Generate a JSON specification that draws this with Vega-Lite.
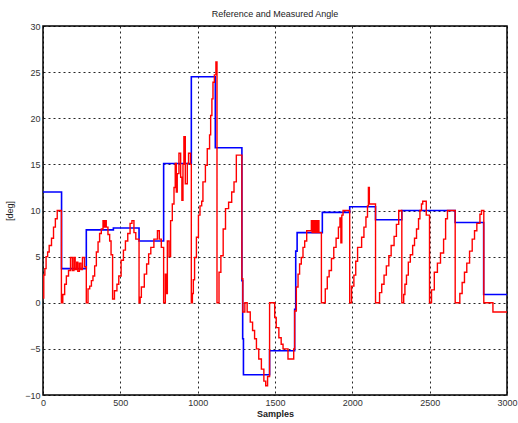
{
  "$schema": "https://vega.github.io/schema/vega-lite/v6.json",
  "autosize": "none",
  "padding": {"left": 43, "top": 26, "right": 11, "bottom": 28},
  "width": 464,
  "height": 369,
  "background": "white",
  "title": {"text": "Reference and Measured Angle", "fontSize": 9, "font": "Liberation Sans", "fontWeight": "normal", "color": "#222", "offset": 3},
  "config": {
    "view": {"stroke": "black", "strokeWidth": 1.5},
    "axis": {"labelFont": "Liberation Sans", "labelFontSize": 9, "labelColor": "#333", "titleFont": "Liberation Sans", "titleFontSize": 9, "titleColor": "#222", "grid": true, "gridColor": "black", "gridDash": [2, 3], "gridWidth": 1, "gridOpacity": 0.85, "domain": false, "ticks": false}
  },
  "datasets": {
    "ref": [
      {"s":0,"v":12},{"s":120,"v":3.7},{"s":280,"v":7.9},{"s":455,"v":8.1},{"s":621,"v":6.7},{"s":780,"v":15.1},{"s":959,"v":24.5},{"s":1114,"v":16.8},{"s":1286,"v":2.4},{"s":1291,"v":-3.9},{"s":1296,"v":-7.8},{"s":1465,"v":-5.2},{"s":1627,"v":-0.7},{"s":1634,"v":5.6},{"s":1643,"v":7.6},{"s":1806,"v":9.8},{"s":1983,"v":10.4},{"s":2150,"v":9.0},{"s":2320,"v":10.0},{"s":2665,"v":8.7},{"s":2849,"v":0.9},{"s":3000,"v":0.9}
    ],
    "meas": [
      {"s":0,"v":0.5},{"s":5,"v":3},{"s":12,"v":3.7},{"s":20,"v":5},{"s":30,"v":5.5},{"s":40,"v":6.2},{"s":55,"v":7},{"s":68,"v":8.2},{"s":80,"v":9.1},{"s":92,"v":10},{"s":119,"v":0},
      {"s":128,"v":0.9},{"s":140,"v":2},{"s":151,"v":2.9},{"s":165,"v":3.5},{"s":178,"v":4.9},{"s":190,"v":3.5},{"s":200,"v":4.9},{"s":208,"v":3.6},{"s":218,"v":4.4},{"s":225,"v":3.4},{"s":235,"v":4.3},{"s":245,"v":3.6},{"s":255,"v":4.9},{"s":268,"v":3.9},{"s":280,"v":0},
      {"s":291,"v":1.5},{"s":302,"v":1.8},{"s":313,"v":2.4},{"s":323,"v":2.9},{"s":334,"v":4},{"s":345,"v":5.5},{"s":356,"v":6.6},{"s":366,"v":7.5},{"s":377,"v":8},{"s":388,"v":8.9},{"s":392,"v":8.2},{"s":396,"v":8.9},{"s":400,"v":8.2},{"s":404,"v":8.9},{"s":409,"v":8.2},{"s":420,"v":7.4},{"s":431,"v":6.7},{"s":440,"v":5.2},{"s":450,"v":0.4},
      {"s":462,"v":1.3},{"s":478,"v":2},{"s":490,"v":2.9},{"s":505,"v":4.6},{"s":520,"v":5.7},{"s":533,"v":6.7},{"s":548,"v":7.5},{"s":563,"v":8.6},{"s":575,"v":8.9},{"s":588,"v":7.6},{"s":600,"v":6.9},{"s":621,"v":0},
      {"s":628,"v":0.6},{"s":636,"v":1.7},{"s":655,"v":3.1},{"s":670,"v":4.2},{"s":683,"v":5.3},{"s":697,"v":6},{"s":717,"v":6.9},{"s":740,"v":7.8},{"s":752,"v":6.9},{"s":765,"v":6},{"s":780,"v":0},
      {"s":791,"v":3.1},{"s":797,"v":1},{"s":804,"v":6.7},{"s":815,"v":5},{"s":825,"v":8.9},{"s":836,"v":10.7},{"s":847,"v":12.5},{"s":855,"v":15.1},{"s":862,"v":12},{"s":868,"v":14},{"s":879,"v":16.2},{"s":890,"v":13.6},{"s":898,"v":11.1},{"s":905,"v":15},{"s":911,"v":18},{"s":920,"v":12.9},{"s":933,"v":15.1},{"s":941,"v":16.2},{"s":954,"v":15},{"s":959,"v":0},
      {"s":966,"v":1},{"s":972,"v":2.5},{"s":980,"v":4.9},{"s":992,"v":7.1},{"s":1005,"v":9.5},{"s":1015,"v":10.5},{"s":1026,"v":11},{"s":1034,"v":13.1},{"s":1050,"v":14.9},{"s":1062,"v":16.7},{"s":1077,"v":18.2},{"s":1084,"v":20.3},{"s":1092,"v":22.1},{"s":1099,"v":23.9},{"s":1108,"v":24.7},{"s":1118,"v":26.1},{"s":1125,"v":0},
      {"s":1138,"v":3.3},{"s":1150,"v":5.1},{"s":1165,"v":8},{"s":1180,"v":10.2},{"s":1200,"v":10.9},{"s":1220,"v":12},{"s":1235,"v":13.1},{"s":1250,"v":16},{"s":1275,"v":16},{"s":1286,"v":2.6},{"s":1292,"v":-1},{"s":1305,"v":0},{"s":1320,"v":-1},{"s":1340,"v":-2.1},{"s":1355,"v":-3},{"s":1368,"v":-3.9},{"s":1380,"v":-5},{"s":1395,"v":-6.1},{"s":1412,"v":-7.2},{"s":1428,"v":-8.5},{"s":1440,"v":-9},{"s":1452,"v":-8},{"s":1465,"v":0},
      {"s":1498,"v":-1.6},{"s":1508,"v":-2.7},{"s":1525,"v":-3.8},{"s":1540,"v":-4.5},{"s":1552,"v":-5},{"s":1584,"v":-6.1},{"s":1621,"v":-5},{"s":1627,"v":-0.9},{"s":1638,"v":1.7},{"s":1649,"v":3.1},{"s":1659,"v":4.2},{"s":1670,"v":4.9},{"s":1681,"v":6},{"s":1692,"v":6.7},{"s":1705,"v":7.8},{"s":1735,"v":8.9},{"s":1740,"v":7.6},{"s":1746,"v":8.9},{"s":1752,"v":7.6},{"s":1760,"v":8.9},{"s":1768,"v":7.6},{"s":1775,"v":8.9},{"s":1784,"v":7.6},{"s":1800,"v":0},
      {"s":1825,"v":1.5},{"s":1838,"v":2.8},{"s":1850,"v":3.5},{"s":1865,"v":4.8},{"s":1880,"v":6},{"s":1895,"v":7},{"s":1910,"v":8.2},{"s":1920,"v":9.2},{"s":1926,"v":6.5},{"s":1932,"v":9.5},{"s":1940,"v":10},{"s":1983,"v":0},
      {"s":1995,"v":1.8},{"s":2010,"v":3},{"s":2022,"v":4.5},{"s":2034,"v":6},{"s":2060,"v":7.1},{"s":2075,"v":8.2},{"s":2088,"v":9.3},{"s":2098,"v":10.5},{"s":2104,"v":12.5},{"s":2110,"v":10.7},{"s":2150,"v":0},
      {"s":2176,"v":1.1},{"s":2190,"v":2},{"s":2205,"v":3},{"s":2220,"v":4},{"s":2236,"v":5.1},{"s":2251,"v":6.2},{"s":2270,"v":7.2},{"s":2285,"v":8.5},{"s":2300,"v":10},{"s":2320,"v":0},
      {"s":2332,"v":0.9},{"s":2340,"v":2},{"s":2350,"v":3},{"s":2362,"v":4.4},{"s":2375,"v":5.2},{"s":2390,"v":6.2},{"s":2402,"v":7},{"s":2415,"v":8},{"s":2428,"v":9.1},{"s":2437,"v":10},{"s":2447,"v":10.7},{"s":2455,"v":11},{"s":2478,"v":9.5},{"s":2499,"v":0},
      {"s":2512,"v":1.4},{"s":2530,"v":3.3},{"s":2550,"v":4.3},{"s":2570,"v":5.4},{"s":2590,"v":6.9},{"s":2603,"v":9.1},{"s":2615,"v":10},{"s":2665,"v":0},
      {"s":2695,"v":1},{"s":2710,"v":2.2},{"s":2725,"v":3.3},{"s":2740,"v":4.3},{"s":2758,"v":5.6},{"s":2775,"v":6.9},{"s":2790,"v":7.8},{"s":2805,"v":8.6},{"s":2825,"v":9.6},{"s":2835,"v":10},{"s":2850,"v":0},{"s":2909,"v":-1},{"s":3000,"v":-1}
    ]
  },
  "encoding": {
    "x": {"field": "s", "type": "quantitative", "scale": {"domain": [0, 3000], "nice": false, "zero": false}, "axis": {"values": [0, 500, 1000, 1500, 2000, 2500, 3000], "format": "d", "title": "Samples", "titleFontWeight": "bold", "labelPadding": 3, "titlePadding": 2, "labelFlush": false}},
    "y": {"field": "v", "type": "quantitative", "scale": {"domain": [-10, 30], "nice": false, "zero": false}, "axis": {"values": [-10, -5, 0, 5, 10, 15, 20, 25, 30], "format": "d", "title": "[deg]", "titleFontWeight": "normal", "labelPadding": 3, "titlePadding": 10}}
  },
  "layer": [
    {"data": {"name": "ref"}, "mark": {"type": "line", "interpolate": "step-after", "color": "#0000ff", "strokeWidth": 1.6, "clip": true}},
    {"data": {"name": "meas"}, "mark": {"type": "line", "interpolate": "step-after", "color": "#ff0000", "strokeWidth": 1.4, "clip": true}}
  ]
}
